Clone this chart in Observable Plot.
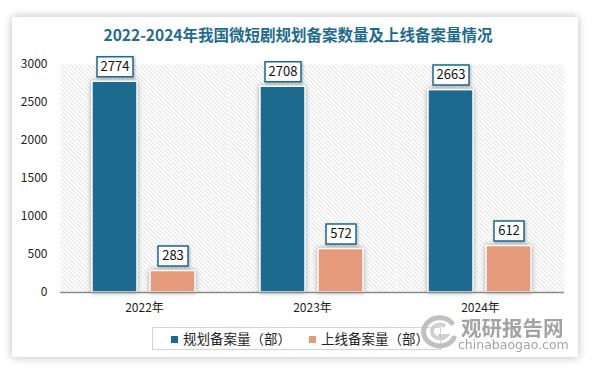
<!DOCTYPE html>
<html><head><meta charset="utf-8">
<script src="https://cdn.jsdelivr.net/npm/d3@7"></script>
<script src="https://cdn.jsdelivr.net/npm/@observablehq/plot@0.6"></script>
<style>
body{margin:0;background:#fff;}
#wrap{position:relative;width:596px;height:373px;overflow:hidden;font-family:"Noto Sans CJK SC",sans-serif;}
#card{position:absolute;left:12px;top:17px;width:566px;height:340px;background:#fff;box-shadow:0 0 9px rgba(0,0,0,0.28);}
#title{position:absolute;left:0;width:596px;top:24px;text-align:center;font-size:15.5px;line-height:20px;font-weight:bold;color:#1f6b8f;font-family:"Noto Sans CJK SC",sans-serif;}
#chart{position:absolute;left:0;top:50px;}
#legend{position:absolute;left:152px;top:327px;width:289px;height:23px;border:1px solid #d4d4d4;box-sizing:border-box;font-size:13.5px;color:#222;}
#legend .it{position:absolute;top:0;line-height:21px;white-space:nowrap;}
#legend .sw{display:inline-block;width:7px;height:7px;margin-right:5px;vertical-align:1px;}
#logo{position:absolute;left:418px;top:314px;}
#wm1{position:absolute;left:461px;top:318px;font-size:20.5px;font-weight:bold;color:#9a9a9a;line-height:18px;height:18px;opacity:0.9;}
#wm2{position:absolute;left:458px;top:338px;font-size:12.5px;color:#9a9a9a;line-height:13px;height:13px;font-family:"DejaVu Sans",sans-serif;opacity:0.9;}
g[aria-label="bar"] rect{filter:drop-shadow(0 0 2.5px rgba(0,0,0,0.35));}
g[aria-label="dot"] path{filter:drop-shadow(1px 1px 1.5px rgba(0,0,0,0.3));}
</style></head>
<body>
<div id="wrap">
  <div id="card"></div>
  <div id="title">2022-2024年我国微短剧规划备案数量及上线备案量情况</div>
  <div id="chart"></div>
  <div id="legend"></div>
  <svg id="logo" width="40" height="36" viewBox="0 0 40 36">
    <path d="M34 9 A16 14 0 1 0 36 24" fill="none" stroke="#b5b5b5" stroke-width="5" stroke-linecap="round" opacity="0.85"/>
    <path d="M27 12 A8 7 0 1 0 28 22 L20 22" fill="none" stroke="#c8c8c8" stroke-width="4" opacity="0.85"/>
  </svg>
  <div id="wm1">观研报告网</div>
  <div id="wm2">chinabaogao.com</div>
</div>
<script>
const years = ["2022年", "2023年", "2024年"];
const seriesNames = ["规划备案量（部）", "上线备案量（部）"];
const planned = [2774, 2708, 2663];
const online = [283, 572, 612];
const yTicks = [0, 500, 1000, 1500, 2000, 2500, 3000];
const colors = ["#1c6a8e", "#e59b7b"];

const data = years.flatMap((y, i) => [
  {year: y, series: seriesNames[0], value: planned[i]},
  {year: y, series: seriesNames[1], value: online[i]}
]);

const boxSymbol = (w, h) => ({draw(ctx) { ctx.rect(-w / 2, -h / 2, w, h); }});

const boxOpts = {fx: "year", x: "series", y: "value", dy: -15, fill: "white", stroke: colors[0], strokeWidth: 1.5};

const chart = Plot.plot({
  width: 596, height: 270,
  marginLeft: 60, marginRight: 32, marginTop: 14, marginBottom: 28,
  style: {fontSize: "12px", color: "#222", fontFamily: "'Noto Sans CJK SC', sans-serif", background: "transparent", overflow: "visible"},
  fx: {domain: years, padding: 0, label: null, axis: "bottom", tickSize: 0, tickPadding: 11},
  x: {domain: seriesNames, paddingInner: 0.22, paddingOuter: 0.534, axis: null},
  y: {domain: [0, 3000], ticks: yTicks, tickFormat: d => String(d), label: null, tickSize: 0, tickPadding: 13},
  color: {domain: seriesNames, range: colors},
  marks: [
    Plot.frame({fill: "url(#hatch)", stroke: null}),
    Plot.barY(data, {fx: "year", x: "series", y: "value", fill: "series", stroke: "white", strokeWidth: 1.5}),
    Plot.ruleY([0], {stroke: "#8a8a8a", strokeWidth: 1.5}),
    Plot.dot(data.filter(d => d.value >= 1000), {...boxOpts, symbol: boxSymbol(36, 20)}),
    Plot.dot(data.filter(d => d.value < 1000), {...boxOpts, symbol: boxSymbol(30, 20)}),
    Plot.text(data, {fx: "year", x: "series", y: "value", text: d => String(d.value), dy: -15, fill: "#111", fontSize: 13})
  ]
});
document.getElementById("chart").append(chart);

const svg = d3.select(chart);
const defs = svg.insert("defs", ":first-child");
const p = defs.append("pattern").attr("id", "hatch").attr("patternUnits", "userSpaceOnUse")
  .attr("width", 3).attr("height", 3).attr("patternTransform", "rotate(-45)");
p.append("rect").attr("width", 3).attr("height", 3).attr("fill", "#fff");
p.append("line").attr("x1", 0).attr("y1", 0).attr("x2", 0).attr("y2", 3).attr("stroke", "#d2d2d2").attr("stroke-width", 1.2);

const legend = d3.select("#legend");
const lx = [18, 156];
seriesNames.forEach((s, i) => {
  const it = legend.append("div").attr("class", "it").style("left", lx[i] + "px");
  it.append("span").attr("class", "sw").style("background", colors[i]);
  it.append("span").text(s);
});
</script>
</body></html>
